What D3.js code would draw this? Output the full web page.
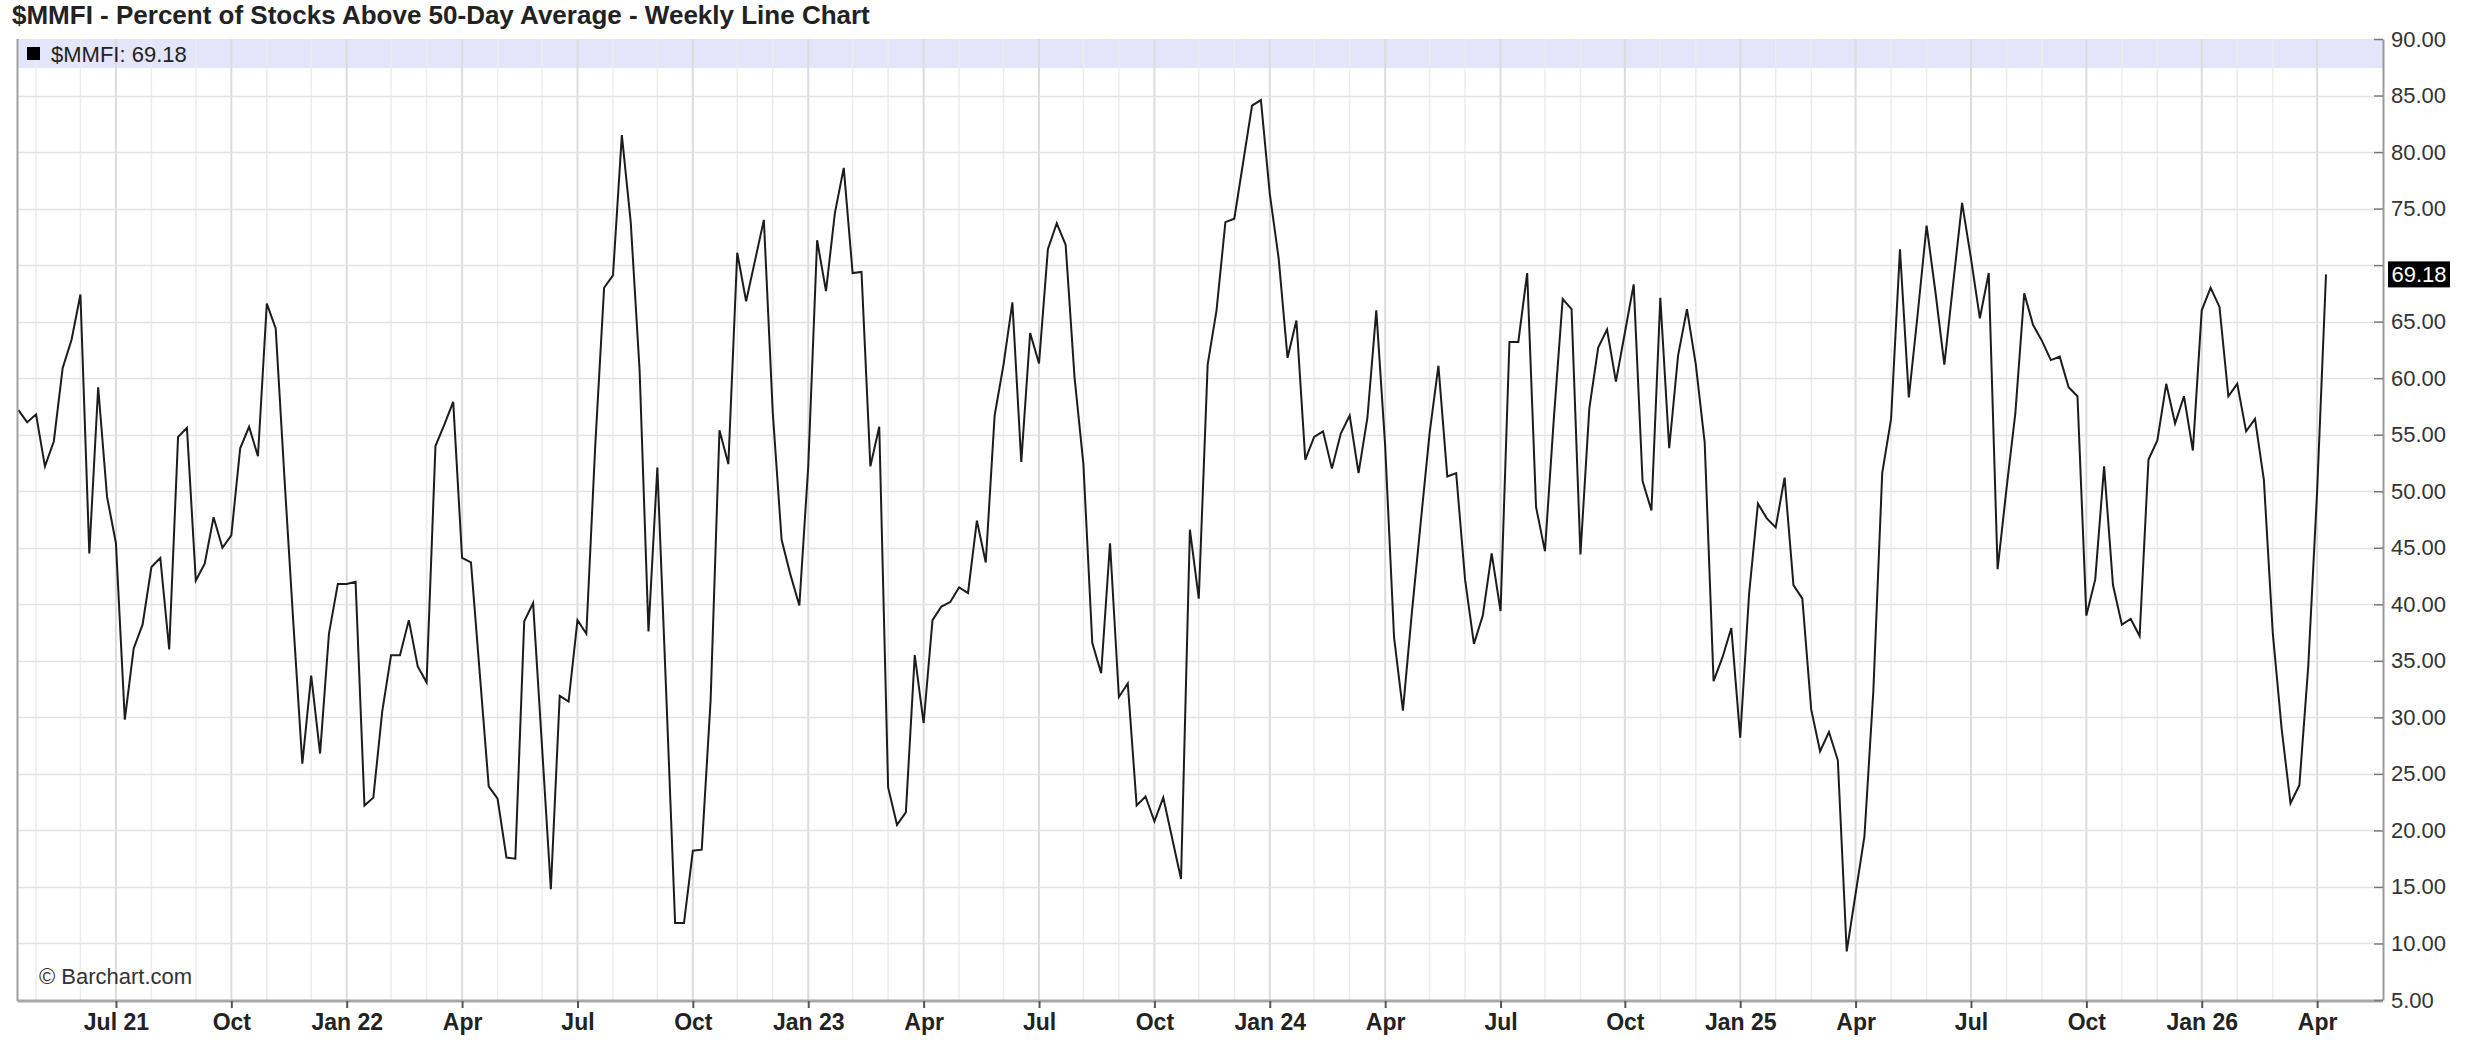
<!DOCTYPE html>
<html>
<head>
<meta charset="utf-8">
<script src="https://cdn.jsdelivr.net/npm/d3@7"></script>
<style>
  body { margin: 0; background: #fff; }
  text { font-family: "Liberation Sans", Arial, sans-serif; }
  .narrow { font-family: "Liberation Sans Narrow", "Liberation Sans", Arial, sans-serif; font-weight: bold; }
</style>
</head>
<body>
<svg id="chart" width="2465" height="1051"></svg>
<script>
// weekly closes, one bar per Monday starting at firstWeek
const firstWeek = "2021-04-19"
const w2021 = [57.2, 56.1, 56.8, 52.2, 54.4, 60.9, 63.4, 67.4, 44.5, 59.2, 49.5, 45.4, 29.8, 36.1, 38.2, 43.3, 44.1, 36.0, 54.8, 55.6,
  42.1, 43.6, 47.7, 45.0, 46.1, 53.8, 55.7, 53.1, 66.6, 64.4, 51.0, 38.2, 25.9, 33.7, 26.8, 37.4, 41.8]
const w2022 = [41.8, 42.0, 22.2, 22.9, 30.5, 35.5, 35.5, 38.6, 34.5, 33.1, 54.0, 55.9, 57.9, 44.1, 43.7, 33.8, 23.9, 22.8, 17.6, 17.5,
  38.5, 40.1, 27.5, 14.8, 31.9, 31.4, 38.6, 37.4, 54.0, 68.0, 69.1, 81.5, 73.8, 60.7, 37.6, 52.1, 32.1, 11.8, 11.8, 18.2,
  18.3, 31.5, 55.4, 52.4, 71.1, 66.8, 70.4, 74.0, 57.0, 45.7, 42.6, 39.9]
const w2023 = [52.2, 72.2, 67.7, 74.6, 78.6, 69.3, 69.4, 52.2, 55.7, 23.8, 20.5, 21.6, 35.5, 29.5, 38.6, 39.8, 40.2, 41.5, 41.0, 47.4,
  43.7, 56.7, 61.2, 66.7, 52.6, 64.0, 61.3, 71.4, 73.7, 71.8, 60.1, 52.4, 36.6, 33.9, 45.4, 31.8, 33.0, 22.2, 23.0, 20.8,
  22.9, 19.3, 15.7, 46.6, 40.5, 61.2, 66.0, 73.8, 74.1, 79.1, 84.1, 84.6]
const w2024 = [76.3, 70.6, 61.8, 65.1, 52.8, 54.8, 55.3, 52.0, 55.1, 56.7, 51.6, 56.5, 66.0, 54.0, 37.1, 30.6, 39.2, 47.2, 55.1, 61.1,
  51.3, 51.6, 42.2, 36.5, 39.0, 44.5, 39.4, 63.2, 63.2, 69.3, 48.6, 44.7, 56.4, 67.0, 66.1, 44.4, 57.3, 62.7, 64.3, 59.7,
  64.0, 68.3, 50.9, 48.3, 67.1, 53.8, 62.0, 66.1, 61.2, 54.3, 33.2, 35.3, 37.9]
const w2025 = [28.2, 40.9, 48.9, 47.6, 46.8, 51.2, 41.7, 40.5, 30.7, 27.0, 28.7, 26.2, 9.3, 14.4, 19.5, 32.3, 51.6, 56.4, 71.4, 58.3,
  65.7, 73.5, 67.6, 61.2, 68.4, 75.5, 70.6, 65.3, 69.3, 43.1, 50.2, 56.9, 67.5, 64.7, 63.3, 61.6, 61.9, 59.2, 58.4, 39.0,
  42.2, 52.2, 41.7, 38.2, 38.7, 37.2, 52.8, 54.5, 59.5, 56.0, 58.4, 53.6]
const w2026 = [66.0, 68.0, 66.3, 58.4, 59.5, 55.3, 56.4, 51.0, 37.5, 29.0, 22.4, 24.0, 34.5, 50.0, 69.18]

const yTicks = [5, 10, 15, 20, 25, 30, 35, 40, 45, 50, 55, 60, 65, 70, 75, 80, 85, 90]
const quarterLabels = ["Jul 21", "Oct", "Jan 22", "Apr", "Jul", "Oct", "Jan 23", "Apr", "Jul", "Oct",
  "Jan 24", "Apr", "Jul", "Oct", "Jan 25", "Apr", "Jul", "Oct", "Jan 26", "Apr"]
const symbol = "$MMFI"
const titleText = "$MMFI - Percent of Stocks Above 50-Day Average - Weekly Line Chart"

const values = [...w2021, ...w2022, ...w2023, ...w2024, ...w2025, ...w2026]
const start = new Date(firstWeek + "T00:00:00Z")
const weeks = values.map((v, i) => ({ date: d3.utcWeek.offset(start, i), value: v }))
const last = weeks[weeks.length - 1]

const plot = { left: 17.5, right: 2383, top: 39, bottom: 1001 }
const svg = d3.select("#chart")

const x = d3.scaleUtc()
  .domain([weeks[0].date, last.date])
  .range([18.3, 2326])
const y = d3.scaleLinear()
  .domain([5, 90])
  .range([1000, 39])

// first bar of every month gets a grid line, quarter months get a label
const monthStarts = weeks.filter(d => d.date.getUTCDate() <= 7).map(d => d.date)
const quarterStarts = monthStarts.filter(d => d.getUTCMonth() % 3 == 0)

svg.append("rect").attr("width", 2465).attr("height", 1051).attr("fill", "#fff")

// legend band
svg.append("rect")
  .attr("x", plot.left).attr("y", plot.top)
  .attr("width", plot.right - plot.left).attr("height", 29)
  .attr("fill", "#e4e4fa")

const grid = svg.append("g")
grid.selectAll(".vgrid")
  .data(monthStarts)
  .join("line")
  .attr("x1", d => x(d)).attr("x2", d => x(d))
  .attr("y1", plot.top).attr("y2", plot.bottom)
  .attr("stroke", d => d.getUTCMonth() % 3 == 0 ? "#dcdcdc" : "#ececec")
  .attr("stroke-width", d => d.getUTCMonth() % 3 == 0 ? 2 : 1.5)
grid.selectAll(".hgrid")
  .data(yTicks.slice(1, -1))
  .join("line")
  .attr("x1", plot.left).attr("x2", plot.right - 10)
  .attr("y1", d => Math.round(y(d)) + 0.5).attr("y2", d => Math.round(y(d)) + 0.5)
  .attr("stroke", "#e3e3e3")
  .attr("stroke-width", 1.5)

// series line
const line = d3.line().x(d => x(d.date)).y(d => y(d.value))
svg.append("path")
  .datum(weeks)
  .attr("d", line)
  .attr("fill", "none")
  .attr("stroke", "#1c1c1c")
  .attr("stroke-width", 2)
  .attr("stroke-linejoin", "miter")

// frame
svg.append("line")
  .attr("x1", plot.left).attr("x2", plot.left)
  .attr("y1", plot.top).attr("y2", plot.bottom)
  .attr("stroke", "#a0a0a0").attr("stroke-width", 2)
svg.append("line")
  .attr("x1", plot.left).attr("x2", plot.right)
  .attr("y1", plot.bottom).attr("y2", plot.bottom)
  .attr("stroke", "#a8a8a8").attr("stroke-width", 3)

// right value axis
const yAxis = d3.axisRight(y)
  .tickValues(yTicks)
  .tickFormat(d3.format(".2f"))
  .tickSize(0)
  .tickPadding(8)
const yAxisG = svg.append("g")
  .attr("transform", `translate(${plot.right},0)`)
  .call(yAxis)
yAxisG.select(".domain").attr("stroke", "#999").attr("stroke-width", 2)
yAxisG.selectAll(".tick text")
  .attr("font-family", "Liberation Sans, Arial, sans-serif")
  .attr("font-size", 22)
  .attr("fill", "#333")
// the last-value marker covers the label it sits on
yAxisG.selectAll(".tick").filter(d => Math.abs(y(d) - y(last.value)) < 16)
  .select("text").remove()
yAxisG.selectAll(".tick").append("line")
  .attr("x1", -9).attr("x2", 0)
  .attr("stroke", "#777").attr("stroke-width", 1.5)

// bottom time axis
const xAxis = d3.axisBottom(x)
  .tickValues(quarterStarts)
  .tickFormat((d, i) => quarterLabels[i])
  .tickSize(7)
  .tickPadding(6)
const xAxisG = svg.append("g")
  .attr("transform", `translate(0,${plot.bottom})`)
  .call(xAxis)
xAxisG.select(".domain").remove()
xAxisG.selectAll(".tick line").attr("stroke", "#555").attr("stroke-width", 2)
xAxisG.selectAll(".tick text")
  .attr("class", "narrow")
  .attr("font-size", 23)
  .attr("fill", "#222")

// last value marker
const lastLabel = d3.format(".2f")(last.value)
const lastBox = svg.append("g").attr("transform", `translate(${plot.right + 5},${y(last.value)})`)
lastBox.append("rect")
  .attr("x", 0).attr("y", -13)
  .attr("width", 62).attr("height", 26)
  .attr("fill", "#000")
lastBox.append("text")
  .attr("x", 31).attr("y", 8)
  .attr("text-anchor", "middle")
  .attr("font-size", 22)
  .attr("fill", "#fff")
  .text(lastLabel)

// title and legend
svg.append("text")
  .attr("class", "narrow")
  .attr("x", 12).attr("y", 24)
  .attr("font-size", 26)
  .attr("fill", "#222")
  .text(titleText)

svg.append("rect")
  .attr("x", 27).attr("y", 47)
  .attr("width", 13).attr("height", 13)
  .attr("fill", "#000")
svg.append("text")
  .attr("x", 51).attr("y", 62)
  .attr("font-size", 22)
  .attr("fill", "#222")
  .text(`${symbol}: ${lastLabel}`)

svg.append("text")
  .attr("x", 39).attr("y", 984)
  .attr("font-size", 22)
  .attr("fill", "#333")
  .text("\u00a9 Barchart.com")
</script>
</body>
</html>
